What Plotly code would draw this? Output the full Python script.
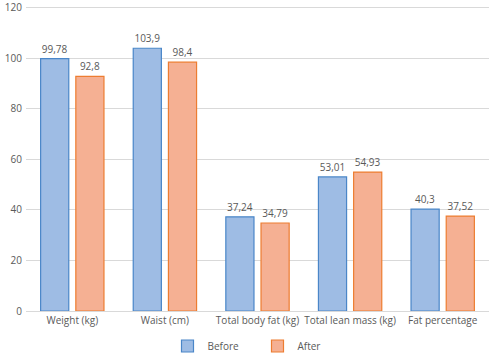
import plotly.graph_objects as go

categories = ["Weight (kg)", "Waist (cm)", "Total body fat (kg)", "Total lean mass (kg)", "Fat percentage"]
before = [99.78, 103.9, 37.24, 53.01, 40.3]
after = [92.8, 98.4, 34.79, 54.93, 37.52]
y_ticks = [0, 20, 40, 60, 80, 100, 120]

def lab(vals):
    return [str(v).replace(".", ",") for v in vals]

fig = go.Figure()
fig.add_trace(go.Bar(
    x=categories, y=before, name="Before",
    marker=dict(color="#9ebce4", line=dict(color="#4a86c8", width=1.2)),
    text=lab(before), textposition="outside",
    textfont=dict(color="#595959", size=10), cliponaxis=False,
))
fig.add_trace(go.Bar(
    x=categories, y=after, name="After",
    marker=dict(color="#f5b093", line=dict(color="#ed7d31", width=1.2)),
    text=lab(after), textposition="outside",
    textfont=dict(color="#595959", size=10), cliponaxis=False,
))

fig.update_layout(
    width=490, height=356,
    margin=dict(l=26, r=1, t=5, b=45, autoexpand=False),
    paper_bgcolor="white", plot_bgcolor="white",
    font=dict(family="Open Sans", size=10, color="#595959"),
    barmode="group", bargap=0.24, bargroupgap=0.2,
    showlegend=True,
    legend=dict(orientation="h", x=0.5, xanchor="center",
                yref="container", y=10 / 356, yanchor="middle",
                font=dict(size=10, color="#595959"), itemwidth=30, entrywidth=45,
                traceorder="normal"),
    xaxis=dict(showgrid=False, showline=True, linecolor="#d9d9d9", linewidth=1,
               ticks="", automargin=False, tickfont=dict(size=10, color="#595959")),
    yaxis=dict(range=[0, 121], tickmode="array", tickvals=y_ticks,
               showgrid=True, gridcolor="#d9d9d9", gridwidth=1,
               zeroline=False, showline=False, ticks="", ticklabelstandoff=3,
               automargin=False, tickfont=dict(size=10, color="#595959")),
)

fig.write_html("out.html", config={"displayModeBar": False},
               post_script="document.body.style.margin='0';")
